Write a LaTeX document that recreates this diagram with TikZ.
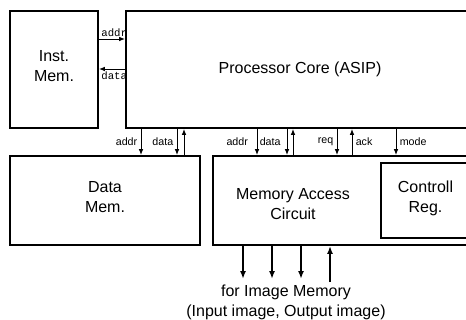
\documentclass[tikz,border=0pt]{standalone}
\usepackage{fontspec}
\setmainfont{Liberation Sans}
\newfontfamily\monofont{Liberation Mono}
\usetikzlibrary{arrows.meta,positioning}

\begin{document}
\begin{tikzpicture}[x=0.75pt,y=-0.75pt,every node/.style={font=\fontsize{12}{15}\selectfont},
  box/.style={draw,line width=1.4pt,align=center,inner sep=0pt},
  sig/.style={-{Latex[length=4.5pt,width=3.5pt]},line width=0.7pt},
  bus/.style={-{Latex[length=6pt,width=4.5pt]},line width=1.6pt},
  lbl/.style={font=\fontsize{8}{9}\selectfont,inner sep=2.5pt},
  tt/.style={font=\monofont\fontsize{8}{9}\selectfont,inner sep=1.5pt}]
  \clip (0,0) rectangle (466,320);
  \node[box,minimum width=66pt,minimum height=87.75pt,text depth=6pt] (imem) at (54,69.5) {Inst.\\Mem.};
  \node[box,minimum width=261pt,minimum height=87.75pt] (core) at (300,69.5) {Processor Core (ASIP)};
  \node[box,minimum width=142.5pt,minimum height=66.75pt,text depth=6pt] (dmem) at (105,200.5) {Data\\Mem.};
  \node[box,minimum width=200.25pt,minimum height=66.75pt] (mac) at (346.5,200.5) {};
  \node[align=center] (mactext) at (293,204) {Memory Access\\Circuit};
  \node[box,minimum width=66.75pt,minimum height=56.25pt,text depth=6pt] (creg) at (425.5,200.5) {Controll\\Reg.};
  % instruction memory port
  \draw[sig] (imem.east |- 0,39) -- (core.west |- 0,39) node[pos=0,tt,above right] {addr};
  \draw[sig] (core.west |- 0,69) -- (imem.east |- 0,69) node[pos=1,tt,below right] {data};
  % data memory port
  \draw[sig] (core.south -| 141,0) -- (dmem.north -| 141,0) node[midway,lbl,left] {addr};
  \draw[sig] (core.south -| 177,0) -- (dmem.north -| 177,0) node[midway,lbl,left] {data};
  \draw[sig] (dmem.north -| 184,0) -- (core.south -| 184,0);
  % memory access circuit port
  \draw[sig] (core.south -| 257,0) -- (mac.north -| 257,0) node[midway,lbl,left,xshift=-4pt] {addr};
  \draw[sig] (core.south -| 287,0) -- (mac.north -| 287,0) node[midway,lbl,left,xshift=-2pt] {data};
  \draw[sig] (mac.north -| 293,0) -- (core.south -| 293,0);
  \draw[sig] (core.south -| 337,0) -- (mac.north -| 337,0) node[midway,lbl,left] {req};
  \draw[sig] (mac.north -| 352,0) -- (core.south -| 352,0) node[midway,lbl,right] {ack};
  \draw[sig] (core.south -| 396,0) -- (mac.north -| 396,0) node[midway,lbl,right] {mode};
  % image memory bus
  \node[align=center] (img) at (286,302) {for Image Memory\\(Input image, Output image)};
  \coordinate (b1) at (243,279);
  \coordinate (b2) at (272,279);
  \coordinate (b3) at (301,279);
  \coordinate (b4) at (330,282);
  \draw[bus] (mac.south -| b1) -- (b1);
  \draw[bus] (mac.south -| b2) -- (b2);
  \draw[bus] (mac.south -| b3) -- (b3);
  \draw[bus] (b4) -- (mac.south -| b4);
\end{tikzpicture}
\end{document}
